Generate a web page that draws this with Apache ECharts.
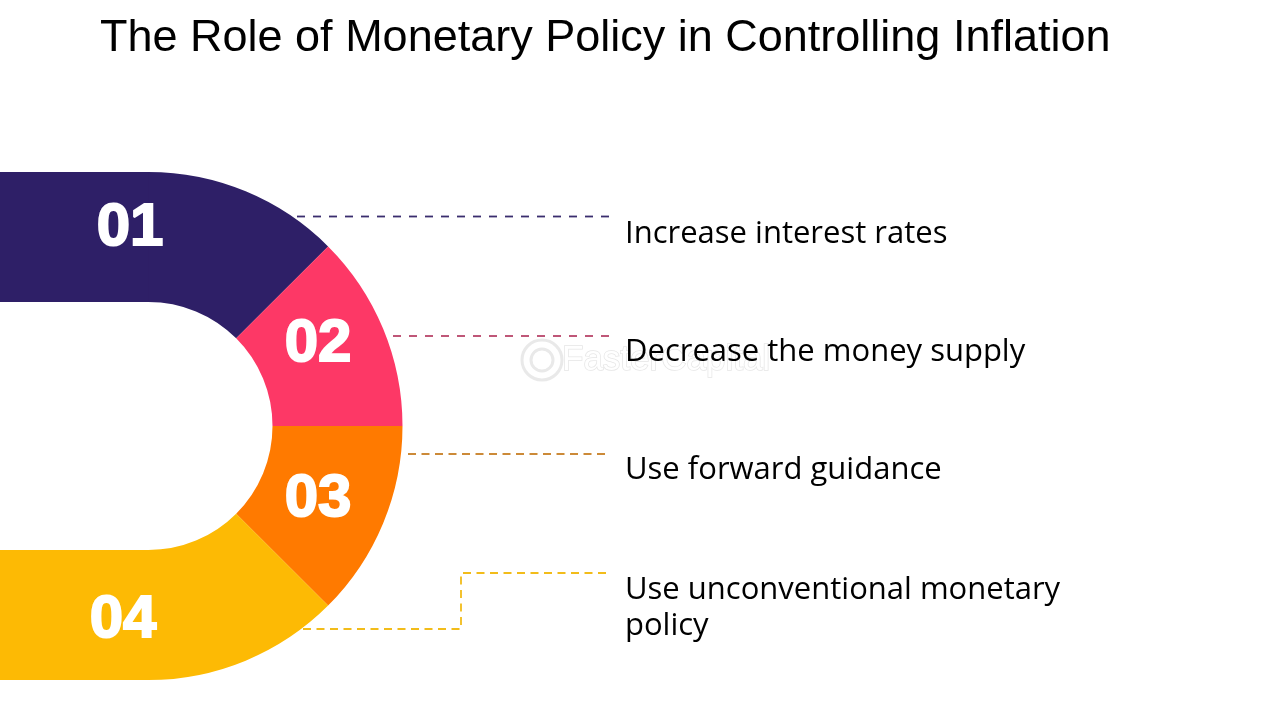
<!DOCTYPE html>
<html>
<head>
<meta charset="utf-8">
<title>The Role of Monetary Policy in Controlling Inflation</title>
<script src="https://cdn.jsdelivr.net/npm/echarts@6/dist/echarts.min.js"></script>
<style>
  html, body { margin: 0; padding: 0; background: #fff; }
  #chart { width: 1280px; height: 720px; }
</style>
</head>
<body>
<div id="chart"></div>
<script>
var chartTitle = 'The Role of Monetary Policy in Controlling Inflation';
var stepNumbers = ['01', '02', '03', '04'];
var stepTexts = [
  'Increase interest rates',
  'Decrease the money supply',
  'Use forward guidance',
  'Use unconventional monetary\npolicy'
];
var sliceValues = [1, 1, 1, 1];
var hiddenValue = 4; // the left half of the ring is not drawn
var watermark = 'FasterCapital';

var colors = ['#2e1f67', '#fd3866', '#ff7a00', '#fdba04'];
var leaderColors = ['#3a2d6e', '#b8456a', '#cc8a38', '#f2bc1a'];
var textFont = 'Open Sans';

var myChart = echarts.init(document.getElementById('chart'));

var pieData = sliceValues.map(function (v, i) {
  return { name: stepNumbers[i], value: v, itemStyle: { color: colors[i] } };
});
pieData.push({ name: '', value: hiddenValue, itemStyle: { color: 'transparent' } });

function leader(points, color, gap) {
  return {
    type: 'line',
    z: 2,
    symbol: 'none',
    silent: true,
    data: points,
    lineStyle: { color: color, width: 1.8, type: [8, gap] }
  };
}

function textPoint(pos, text, label, z) {
  return {
    type: 'scatter',
    z: z,
    silent: true,
    symbolSize: 0,
    itemStyle: { opacity: 1 },
    data: [pos],
    label: Object.assign({ show: true, position: 'inside', formatter: text }, label)
  };
}

function numberLabel(pos, text) {
  return textPoint(pos, text, {
    color: '#fff',
    fontFamily: 'Liberation Sans',
    fontWeight: 'bold',
    fontSize: 60,
    textBorderColor: '#fff',
    textBorderWidth: 2
  }, 6);
}

function stepLabel(pos, text) {
  return textPoint(pos, text, {
    position: 'right',
    distance: 0,
    color: '#000',
    fontFamily: textFont,
    fontSize: 31,
    lineHeight: 36,
    align: 'left'
  }, 6);
}

var option = {
  animation: false,
  backgroundColor: '#fff',
  title: {
    text: chartTitle,
    left: 100,
    top: 16,
    padding: 0,
    textStyle: { fontFamily: 'Liberation Sans', fontWeight: 'normal', fontSize: 45, color: '#000' }
  },
  grid: { left: 0, right: 0, top: 0, bottom: 0 },
  xAxis: { type: 'value', min: 0, max: 1280, show: false },
  yAxis: { type: 'value', min: 0, max: 720, inverse: true, show: false },
  series: [
    // straight ends of the ring
    {
      type: 'custom',
      z: 3,
      silent: true,
      data: [[0, 172, 149, 302, 0], [0, 550, 149, 680, 3]],
      renderItem: function (params, api) {
        var a = api.coord([api.value(0), api.value(1)]);
        var b = api.coord([api.value(2), api.value(3)]);
        return {
          type: 'rect',
          shape: { x: a[0], y: a[1], width: b[0] - a[0], height: b[1] - a[1] },
          style: { fill: colors[api.value(4)] }
        };
      }
    },
    {
      type: 'pie',
      z: 3,
      silent: true,
      center: [148.5, 426],
      radius: [124, 254],
      startAngle: 90,
      clockwise: true,
      avoidLabelOverlap: false,
      label: { show: false },
      labelLine: { show: false },
      data: pieData
    },
    leader([[297, 216.5], [609, 216.5]], leaderColors[0], 8),
    leader([[393, 336], [609, 336]], leaderColors[1], 8),
    leader([[408, 454], [609, 454]], leaderColors[2], 5.5),
    leader([[303, 629], [461, 629], [461, 573], [606, 573]], leaderColors[3], 5.5),
    // faint watermark behind the labels
    {
      type: 'scatter',
      z: 1,
      silent: true,
      symbol: 'circle',
      data: [{ value: [542, 360], symbolSize: 40 }, { value: [542, 360], symbolSize: 22 }],
      itemStyle: { color: 'transparent', borderColor: '#e9e9e9', borderWidth: 3, opacity: 1 }
    },
    textPoint([562, 360], watermark, {
      position: 'right',
      distance: 0,
      color: '#fff',
      textBorderColor: '#e6e6e6',
      textBorderWidth: 1.5,
      fontFamily: 'Liberation Sans',
      fontSize: 35
    }, 1),
    numberLabel([130, 228], stepNumbers[0]),
    numberLabel([318, 344], stepNumbers[1]),
    numberLabel([318, 499], stepNumbers[2]),
    numberLabel([123, 620], stepNumbers[3]),
    stepLabel([625, 234], stepTexts[0]),
    stepLabel([625, 352], stepTexts[1]),
    stepLabel([625, 470], stepTexts[2]),
    stepLabel([625, 608], stepTexts[3])
  ]
};

myChart.setOption(option);
</script>
</body>
</html>
